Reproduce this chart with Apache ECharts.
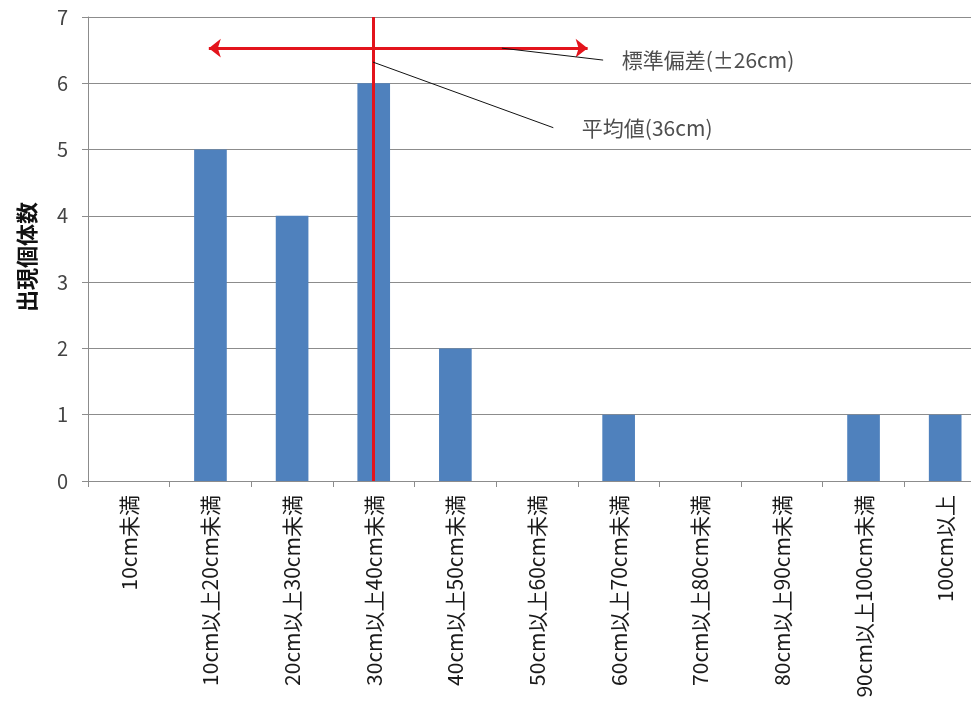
<!DOCTYPE html>
<html>
<head>
<meta charset="utf-8">
<script src="https://cdn.jsdelivr.net/npm/echarts@6/dist/echarts.min.js"></script>
<style>
  html, body { margin: 0; padding: 0; background: #fff; overflow: hidden; }
  #chart { width: 990px; height: 706px; }
</style>
</head>
<body>
<div id="chart"></div>
<script>
const categories = ['10cm未満', '10cm以上20cm未満', '20cm以上30cm未満', '30cm以上40cm未満', '40cm以上50cm未満',
  '50cm以上60cm未満', '60cm以上70cm未満', '70cm以上80cm未満', '80cm以上90cm未満', '90cm以上100cm未満', '100cm以上'];
const counts = [0, 5, 4, 6, 2, 0, 1, 0, 0, 1, 1];

// annotation positions in (cm, count) units on the hidden value axis
const meanX = 34.9;
const sdArrow = [[14.8, 6.53], [61.2, 6.53]];
const sdLeader = [[50.7, 6.53], [63.1, 6.35]];
const meanLeader = [[34.9, 6.32], [57.0, 5.33]];
const sdText = '標準偏差(±26cm)';
const meanText = '平均値(36cm)';

const font = '"Noto Sans CJK JP", "Noto Sans", sans-serif';
const chart = echarts.init(document.getElementById('chart'));

function leader(points) {
  return {
    type: 'line', xAxisIndex: 1, yAxisIndex: 0, z: 5,
    data: points, symbol: 'none', silent: true,
    lineStyle: { color: '#111', width: 1 }
  };
}

function note(point, text, dist) {
  return {
    type: 'scatter', xAxisIndex: 1, yAxisIndex: 0, z: 7, silent: true,
    data: [point], symbolSize: 1, itemStyle: { color: 'rgba(0,0,0,0)' },
    label: {
      show: true, position: 'right', distance: dist,
      fontFamily: font, fontSize: 21, color: '#222',
      formatter: () => text
    }
  };
}

chart.setOption({
  animation: false,
  textStyle: { fontFamily: font },
  grid: { left: 88, top: 17, height: 464, width: 898, outerBoundsMode: 'none', containLabel: false },
  xAxis: [{
    type: 'category', data: categories,
    axisLine: { lineStyle: { color: '#8c8c8c' } },
    axisTick: { show: true, length: 6, lineStyle: { color: '#8c8c8c' } },
    axisLabel: { rotate: 90, fontSize: 21, color: '#1a1a1a', margin: 14, interval: 0 }
  }, {
    type: 'value', min: 0, max: 110, show: false
  }],
  yAxis: {
    type: 'value', min: 0, max: 7, interval: 1,
    name: '出現個体数', nameLocation: 'middle', nameRotate: 90, nameGap: 50,
    nameTextStyle: { fontSize: 22, fontWeight: 'bold', color: '#111', padding: [0, 16, 0, 0] },
    axisLine: { show: true, lineStyle: { color: '#8c8c8c' } },
    axisTick: { show: true, length: 6, lineStyle: { color: '#8c8c8c' } },
    axisLabel: { fontSize: 20, color: '#444', margin: 20 },
    splitLine: { lineStyle: { color: '#8c8c8c', width: 1 } }
  },
  series: [{
    type: 'bar', data: counts, barWidth: '40%',
    itemStyle: { color: '#4F81BD' }
  }, {
    type: 'line', xAxisIndex: 1, yAxisIndex: 0, data: [], z: 6,
    markLine: {
      silent: true, animation: false,
      label: { show: false },
      data: [
        [{ coord: [meanX, 0], symbol: 'none' }, { coord: [meanX, 7], symbol: 'none' }],
        [{ coord: sdArrow[0], symbol: 'arrow' }, { coord: sdArrow[1], symbol: 'arrow' }]
      ],
      symbolSize: [14, 12],
      lineStyle: { color: '#E3141C', width: 3, type: 'solid' }
    }
  },
  leader(sdLeader),
  leader(meanLeader),
  note(sdLeader[1], sdText, 18),
  note(meanLeader[1], meanText, 28)]
});
</script>
</body>
</html>
